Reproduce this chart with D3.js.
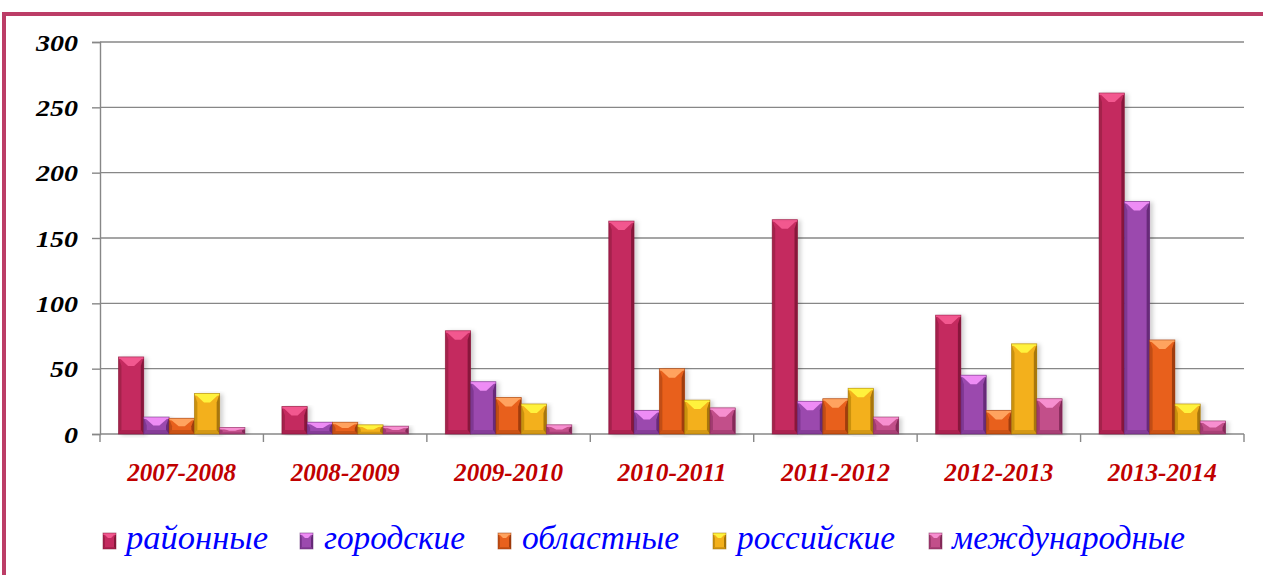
<!DOCTYPE html>
<html>
<head>
<meta charset="utf-8">
<script src="https://cdn.jsdelivr.net/npm/d3@7"></script>
<style>
    body { margin: 0; background: #fff; }
    svg { display: block; }
</style>
</head>
<body>
<div id="chart"></div>
<script>
// data
const years = ["2007-2008", "2008-2009", "2009-2010", "2010-2011", "2011-2012", "2012-2013", "2013-2014"];
const levels = ["районные", "городские", "областные", "российские", "международные"];
const raion = [59, 21, 79, 163, 164, 91, 261];
const gorod = [13, 9, 40, 18, 25, 45, 178];
const oblast = [12, 9, 28, 50, 27, 18, 72];
const ross = [31, 7, 23, 26, 35, 69, 23];
const mezhd = [5, 6, 7, 20, 13, 27, 10];
const yTicks = [0, 50, 100, 150, 200, 250, 300];

const series = [raion, gorod, oblast, ross, mezhd];

// main, light (top face), dark (sides)
const colors = [
    {main: "#c42a5f", light: "#f2588f", dark: "#7e1535"},
    {main: "#9b4aae", light: "#ee8cf5", dark: "#5e2470"},
    {main: "#e8611d", light: "#ffa35f", dark: "#93360a"},
    {main: "#f3b01b", light: "#fff23d", dark: "#9a6c05"},
    {main: "#c24f8a", light: "#f78fd0", dark: "#7a2350"}
];

const SERIF = "Liberation Serif";

function draw_chart(placement) {
    var W = 1263, H = 575;
    var margin = {top: 42, right: 19, bottom: 141, left: 100},
        width = W - margin.left - margin.right,
        height = H - margin.top - margin.bottom;

    var svg = d3.select(placement).append("svg")
        .attr("width", W)
        .attr("height", H);

    var defs = svg.append("defs");
    var shadow = defs.append("filter").attr("id", "shadow")
        .attr("x", "-20%").attr("y", "-5%").attr("width", "150%").attr("height", "110%");
    shadow.append("feDropShadow")
        .attr("dx", 3).attr("dy", 1).attr("stdDeviation", 2)
        .attr("flood-color", "#000").attr("flood-opacity", 0.18);

    // frame around the chart (goes off the page right and bottom)
    svg.append("rect")
        .attr("x", 4).attr("y", 14)
        .attr("width", W + 20).attr("height", H + 20)
        .attr("fill", "none")
        .attr("stroke", "#bc3d67")
        .attr("stroke-width", 4);

    var g = svg.append("g")
        .attr("transform", "translate(" + margin.left + "," + margin.top + ")");

    var x0 = d3.scaleBand()
        .domain(years)
        .range([0, width])
        .paddingInner(0.226)
        .paddingOuter(0.113);

    var x1 = d3.scaleBand()
        .domain(d3.range(levels.length))
        .range([0, x0.bandwidth()]);

    var yScale = d3.scaleLinear()
        .domain([0, 300])
        .range([height, 0]);

    // grid lines
    g.append("g")
        .selectAll("line")
        .data(yTicks.filter(d => d > 0))
        .join("line")
        .attr("x1", 0).attr("x2", width)
        .attr("y1", d => yScale(d)).attr("y2", d => yScale(d))
        .attr("stroke", "#878787")
        .attr("stroke-width", 1.4);

    var yAxis = d3.axisLeft(yScale)
        .tickValues(yTicks)
        .tickSize(8)
        .tickPadding(14);

    var yg = g.append("g").call(yAxis);
    yg.select(".domain").attr("stroke", "#878787").attr("stroke-width", 1.4);
    yg.selectAll(".tick line").attr("stroke", "#878787").attr("stroke-width", 1.4);
    yg.selectAll(".tick text")
        .attr("fill", "#000")
        .attr("dy", "0.34em")
        .style("font-family", SERIF)
        .style("font-style", "italic")
        .style("font-weight", "bold")
        .style("font-size", "24px")
        .attr("textLength", d => String(d).length * 14)
        .attr("lengthAdjust", "spacingAndGlyphs");

    // bottom axis with ticks between the groups
    var xg = g.append("g").attr("transform", "translate(0," + height + ")");
    xg.append("line")
        .attr("x1", 0).attr("x2", width)
        .attr("stroke", "#878787").attr("stroke-width", 1.4);
    var edges = years.map(d => x0(d) - x0.step() * x0.paddingInner() / 2).concat([width]);
    xg.selectAll("line.tk")
        .data(edges)
        .join("line")
        .attr("class", "tk")
        .attr("x1", d => d).attr("x2", d => d)
        .attr("y1", 0).attr("y2", 8)
        .attr("stroke", "#878787").attr("stroke-width", 1.4);
    xg.selectAll("text")
        .data(years)
        .join("text")
        .attr("x", d => x0(d) + x0.bandwidth() / 2)
        .attr("y", 47)
        .attr("text-anchor", "middle")
        .attr("fill", "#c00000")
        .style("font-family", SERIF)
        .style("font-style", "italic")
        .style("font-weight", "bold")
        .style("font-size", "25px")
        .attr("textLength", 109)
        .attr("lengthAdjust", "spacingAndGlyphs")
        .text(d => d);

    // bars
    var rows = [];
    years.forEach((yr, i) => {
        series.forEach((s, k) => {
            rows.push({year: yr, k: k, value: s[i]});
        });
    });

    g.append("g")
        .selectAll("g")
        .data(rows)
        .join("g")
        .attr("transform", d => "translate(" + (x0(d.year) + x1(d.k)) + "," + yScale(d.value) + ")")
        .each(function (d) {
            bevel(d3.select(this), x1.bandwidth(), height - yScale(d.value), colors[d.k]);
        });

    // legend
    var legendX = [103, 300, 498, 713, 929];
    var textStart = [126, 324, 522, 737, 952];
    var textLen = [142, 141, 157, 158, 233];
    var lg = svg.append("g");
    levels.forEach((name, k) => {
        var item = lg.append("g").attr("transform", "translate(" + legendX[k] + ",533)");
        bevel(item, 13, 16, colors[k], true);
        lg.append("text")
            .attr("x", textStart[k])
            .attr("y", 549)
            .attr("fill", "#0000ff")
            .style("font-family", SERIF)
            .style("font-style", "italic")
            .style("font-size", "34px")
            .attr("textLength", textLen[k])
            .attr("lengthAdjust", "spacingAndGlyphs")
            .text(name);
    });
}

// a bar drawn as a bevelled block: light top face, darker sides
function bevel(sel, w, h, c, small) {
    if (h <= 0) return;
    var bt = Math.min(small ? 5 : 9, h / 2, w * 0.4);
    var bs = Math.min(small ? 2 : 3, w / 4);
    var bb = Math.min(small ? 2 : 4, h / 4);
    var main = sel.append("g").attr("filter", small ? null : "url(#shadow)");
    main.append("rect")
        .attr("width", w).attr("height", h)
        .attr("fill", c.main);
    // left side
    main.append("path")
        .attr("d", `M0,0L${bs},${bt}L${bs},${h - bb}L0,${h}Z`)
        .attr("fill", c.dark).attr("opacity", 0.45);
    // right side
    main.append("path")
        .attr("d", `M${w},0L${w - bs},${bt}L${w - bs},${h - bb}L${w},${h}Z`)
        .attr("fill", c.dark).attr("opacity", 0.85);
    // bottom
    main.append("path")
        .attr("d", `M0,${h}L${bs},${h - bb}L${w - bs},${h - bb}L${w},${h}Z`)
        .attr("fill", c.dark).attr("opacity", 0.35);
    // top face
    main.append("path")
        .attr("d", `M0,0H${w}L${w / 2 + w * 0.12},${bt}H${w / 2 - w * 0.12}Z`)
        .attr("fill", c.light);
    main.append("rect")
        .attr("width", w).attr("height", Math.min(2, h))
        .attr("fill", c.light).attr("opacity", 0.9);
    main.append("rect")
        .attr("width", w).attr("height", h)
        .attr("fill", "none")
        .attr("stroke", c.dark).attr("stroke-width", 0.8).attr("opacity", 0.6);
}

draw_chart("#chart");
</script>
</body>
</html>
